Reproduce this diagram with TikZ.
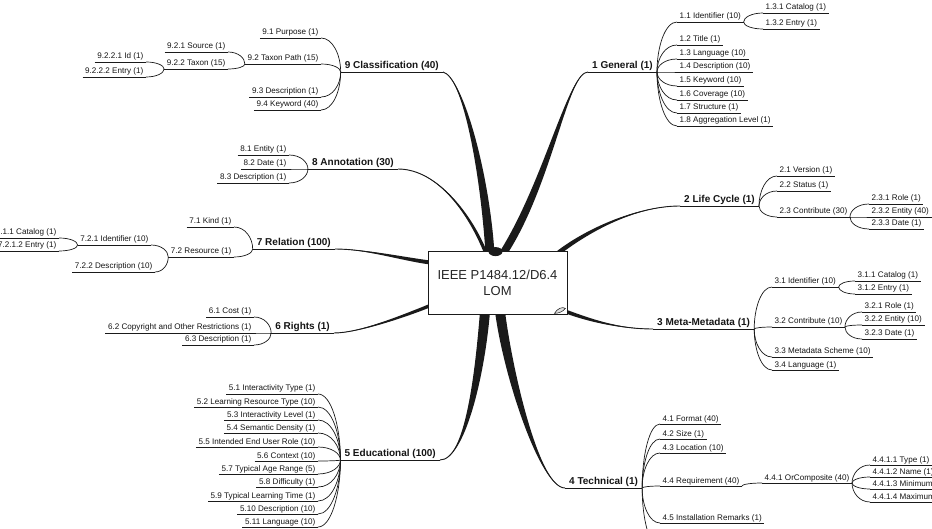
\documentclass[tikz,border=0pt]{standalone}
\usepackage{fontspec}
\setmainfont{Liberation Sans}
\usetikzlibrary{calc,backgrounds}
\definecolor{ink}{HTML}{1A1A1A}
\definecolor{txt}{HTML}{151515}
\definecolor{boxtxt}{HTML}{262626}

% tapered main branch: #1 start, #2 end, #3 half width at start,
% #4 control relative to start, #5 control relative to end
\newcommand\taperto[5]{%
  \fill[ink] ($(#1)+#3$) .. controls +#4 and +#5 .. (#2)
    .. controls +#5 and +#4 .. ($(#1)-#3$) -- cycle;
  \draw[ink, line width=0.9pt] (#1) .. controls +#4 and +#5 .. (#2);}

\tikzset{
  uline/.style={draw=ink, line width=0.7pt},
  sub/.style={font=\fontsize{8.1}{9}\selectfont, text=txt, inner xsep=2.5pt, inner ysep=0.8pt,
    text height=6pt, text depth=2pt,
    append after command={(\tikzlastnode.south west) edge[uline] (\tikzlastnode.south east)}},
  R/.style={sub, anchor=south west},
  L/.style={sub, anchor=south east},
  main/.style={font=\bfseries\fontsize{10}{12}\selectfont, text=txt, inner xsep=4pt, inner ysep=1pt,
    text height=7.4pt, text depth=2.4pt,
    append after command={(\tikzlastnode.south west) edge[uline, line width=0.9pt] (\tikzlastnode.south east)}},
  MR/.style={main, anchor=south west},
  ML/.style={main, anchor=south east},
  conn/.style={draw=ink, line width=0.7pt,
    to path={.. controls ($(\tikztostart)!.5!(\tikztostart |- \tikztotarget)$)
      and ($(\tikztotarget)!.6!(\tikztostart |- \tikztotarget)$) .. (\tikztotarget) \tikztonodes}},
}

\begin{document}
\begin{tikzpicture}[x=1pt, y=-1pt]
\useasboundingbox (0,0) rectangle (932,529);

% central topic
\node[draw=ink, line width=0.8pt, fill=white, minimum width=139pt, minimum height=63pt,
  align=center, text=boxtxt, font=\fontsize{13}{16}\selectfont] (root) at (497.5,282.5)
  {IEEE P1484.12/D6.4\\LOM};

% main topics
\node[MR] (gen)    at (588,72)  {1 General (1)};
\node[MR] (lc)     at (680,206) {2 Life Cycle (1)};
\node[MR] (meta)   at (653,329) {3 Meta-Metadata (1)};
\node[MR] (tech)   at (565,488) {4 Technical (1)};
\node[ML] (edu)    at (440,460) {5 Educational (100)};
\node[ML] (rights) at (334,333) {6 Rights (1)};
\node[ML] (rel)    at (335,249) {7 Relation (100)};
\node[ML] (ann)    at (398,169) {8 Annotation (30)};
\node[ML] (cls)    at (443,72)  {9 Classification (40)};

% 1 General
\node[R] (g11)  at (677,22)  {1.1 Identifier (10)};
\node[R] (g131) at (763,13)  {1.3.1 Catalog (1)};
\node[R] (g132) at (763,29)  {1.3.2 Entry (1)};
\node[R] (g12)  at (677,45)  {1.2 Title (1)};
\node[R] (g13)  at (677,59)  {1.3 Language (10)};
\node[R] (g14)  at (677,72)  {1.4 Description (10)};
\node[R] (g15)  at (677,86)  {1.5 Keyword (10)};
\node[R] (g16)  at (677,100) {1.6 Coverage (10)};
\node[R] (g17)  at (677,113) {1.7 Structure (1)};
\node[R] (g18)  at (677,126) {1.8 Aggregation Level (1)};

% 2 Life Cycle
\node[R] (l21)  at (777,176) {2.1 Version (1)};
\node[R] (l22)  at (777,191) {2.2 Status (1)};
\node[R] (l23)  at (777,217) {2.3 Contribute (30)};
\node[R] (l231) at (869,204) {2.3.1 Role (1)};
\node[R] (l232) at (869,217) {2.3.2 Entity (40)};
\node[R] (l233) at (869,229) {2.3.3 Date (1)};

% 3 Meta-Metadata
\node[R] (m31)  at (772,287) {3.1 Identifier (10)};
\node[R] (m311) at (855,281) {3.1.1 Catalog (1)};
\node[R] (m312) at (855,294) {3.1.2 Entry (1)};
\node[R] (m32)  at (772,327) {3.2 Contribute (10)};
\node[R] (m321) at (862,312) {3.2.1 Role (1)};
\node[R] (m322) at (862,325) {3.2.2 Entity (10)};
\node[R] (m323) at (862,339) {3.2.3 Date (1)};
\node[R] (m33)  at (772,357) {3.3 Metadata Scheme (10)};
\node[R] (m34)  at (772,370) {3.4 Language (1)};

% 4 Technical
\node[R] (t41)   at (660,424) {4.1 Format (40)};
\node[R] (t42)   at (660,439) {4.2 Size (1)};
\node[R] (t43)   at (660,453) {4.3 Location (10)};
\node[R] (t44)   at (660,486) {4.4 Requirement (40)};
\node[R] (t441)  at (762,483) {4.4.1 OrComposite (40)};
\node[R] (t4411) at (870,465) {4.4.1.1 Type (1)};
\node[R] (t4412) at (870,477) {4.4.1.2 Name (1)};
\node[R] (t4413) at (870,489) {4.4.1.3 Minimum Version (1)};
\node[R] (t4414) at (870,502) {4.4.1.4 Maximum Version (1)};
\node[R] (t45)   at (660,523) {4.5 Installation Remarks (1)};
\coordinate (t46) at (660,548);

% 5 Educational
\node[L] (e51)  at (318,394) {5.1 Interactivity Type (1)};
\node[L] (e52)  at (318,407) {5.2 Learning Resource Type (10)};
\node[L] (e53)  at (318,420) {5.3 Interactivity Level (1)};
\node[L] (e54)  at (318,433) {5.4 Semantic Density (1)};
\node[L] (e55)  at (318,447) {5.5 Intended End User Role (10)};
\node[L] (e56)  at (318,461) {5.6 Context (10)};
\node[L] (e57)  at (318,474) {5.7 Typical Age Range (5)};
\node[L] (e58)  at (318,487) {5.8 Difficulty (1)};
\node[L] (e59)  at (318,501) {5.9 Typical Learning Time (1)};
\node[L] (e510) at (318,514) {5.10 Description (10)};
\node[L] (e511) at (318,527) {5.11 Language (10)};

% 6 Rights
\node[L] (s61) at (254,317) {6.1 Cost (1)};
\node[L] (s62) at (254,333) {6.2 Copyright and Other Restrictions (1)};
\node[L] (s63) at (254,345) {6.3 Description (1)};

% 7 Relation
\node[L] (r71)   at (234,227) {7.1 Kind (1)};
\node[L] (r72)   at (234,257) {7.2 Resource (1)};
\node[L] (r721)  at (151,245) {7.2.1 Identifier (10)};
\node[L] (r7211) at (59,238)  {7.2.1.1 Catalog (1)};
\node[L] (r7212) at (59,251)  {7.2.1.2 Entry (1)};
\node[L] (r722)  at (155,272) {7.2.2 Description (10)};

% 8 Annotation
\node[L] (a81) at (289,155) {8.1 Entity (1)};
\node[L] (a82) at (289,169) {8.2 Date (1)};
\node[L] (a83) at (289,183) {8.3 Description (1)};

% 9 Classification
\node[L] (c91)   at (321,38)  {9.1 Purpose (1)};
\node[L] (c92)   at (321,64)  {9.2 Taxon Path (15)};
\node[L] (c921)  at (228,52)  {9.2.1 Source (1)};
\node[L] (c922)  at (228,69)  {9.2.2 Taxon (15)};
\node[L] (c9221) at (146,62)  {9.2.2.1 Id (1)};
\node[L] (c9222) at (146,77)  {9.2.2.2 Entry (1)};
\node[L] (c93)   at (321,97)  {9.3 Description (1)};
\node[L] (c94)   at (321,110) {9.4 Keyword (40)};

% sub-topic connectors, right side
\foreach \c in {g11,g12,g13,g14,g15,g16,g17,g18} \draw[conn] (gen.south east) to (\c.south west);
\foreach \c in {g131,g132} \draw[conn] (g11.south east) to (\c.south west);
\foreach \c in {l21,l22,l23} \draw[conn] (lc.south east) to (\c.south west);
\foreach \c in {l231,l232,l233} \draw[conn] (l23.south east) to (\c.south west);
\foreach \c in {m31,m32,m33,m34} \draw[conn] (meta.south east) to (\c.south west);
\foreach \c in {m311,m312} \draw[conn] (m31.south east) to (\c.south west);
\foreach \c in {m321,m322,m323} \draw[conn] (m32.south east) to (\c.south west);
\foreach \c in {t41,t42,t43,t44,t45} \draw[conn] (tech.south east) to (\c.south west);
\draw[conn] (tech.south east) to (t46);
\draw[conn] (t44.south east) to (t441.south west);
\foreach \c in {t4411,t4412,t4413,t4414} \draw[conn] (t441.south east) to (\c.south west);

% sub-topic connectors, left side
\foreach \c in {e51,e52,e53,e54,e55,e56,e57,e58,e59,e510,e511} \draw[conn] (edu.south west) to (\c.south east);
\foreach \c in {s61,s62,s63} \draw[conn] (rights.south west) to (\c.south east);
\foreach \c in {r71,r72} \draw[conn] (rel.south west) to (\c.south east);
\foreach \c in {r721,r722} \draw[conn] (r72.south west) to (\c.south east);
\foreach \c in {r7211,r7212} \draw[conn] (r721.south west) to (\c.south east);
\foreach \c in {a81,a82,a83} \draw[conn] (ann.south west) to (\c.south east);
\foreach \c in {c91,c92,c93,c94} \draw[conn] (cls.south west) to (\c.south east);
\foreach \c in {c921,c922} \draw[conn] (c92.south west) to (\c.south east);
\foreach \c in {c9221,c9222} \draw[conn] (c922.south west) to (\c.south east);

% branch roots, just inside the central box
\coordinate (s1) at ($(root.north)+(5.5,3)$);
\coordinate (s2) at ($(root.north east)+(-10,3)$);
\coordinate (s3) at ($(root.south east)+(-2,-3)$);
\coordinate (s4) at ($(root.south)+(2.5,-3)$);
\coordinate (s5) at ($(root.south)+(-12.5,-3)$);
\coordinate (s6) at ($(root.south west)+(3,-9)$);
\coordinate (s7) at ($(root.north west)+(3,12)$);
\coordinate (s8) at ($(root.north)+(-11.5,3)$);
\coordinate (s9) at ($(root.north)+(-7.5,3)$);

\begin{pgfonlayer}{background}
  \fill[white] (0,0) rectangle (932,529);
  \taperto{s1}{gen.south west}{(4.5,0)}{(45,-70)}{(-20,0)}
  \taperto{s2}{lc.south west}{(1.6,1.6)}{(28,-22)}{(-45,0)}
  \taperto{s3}{meta.south west}{(-0.5,1.8)}{(22,8)}{(-35,0)}
  \taperto{s4}{tech.south west}{(5,0)}{(8,63)}{(-25,0)}
  \taperto{s5}{edu.south east}{(5,0)}{(-5,63)}{(25,0)}
  \taperto{s6}{rights.south east}{(0,1.8)}{(-25,10)}{(25,0)}
  \taperto{s7}{rel.south east}{(0,2)}{(-30,-4)}{(30,0)}
  \taperto{s8}{ann.south east}{(1.8,0)}{(-15,-38)}{(40,0)}
  \taperto{s9}{cls.south east}{(4.5,0)}{(-5,-80)}{(20,5)}
\end{pgfonlayer}

% hub where the branches meet, and the small note mark
\fill[ink] ($(root.north)+(-2,1)$) ellipse (7pt and 4.5pt);
\draw[ink, line width=0.5pt, fill=gray!25]
  ($(root.south east)+(-13,-1)$) .. controls +(3,-5) and +(-3,-2) .. ($(root.south east)+(-2,-6)$)
  .. controls +(-2,3) and +(4,0) .. cycle;
\end{tikzpicture}
\end{document}
